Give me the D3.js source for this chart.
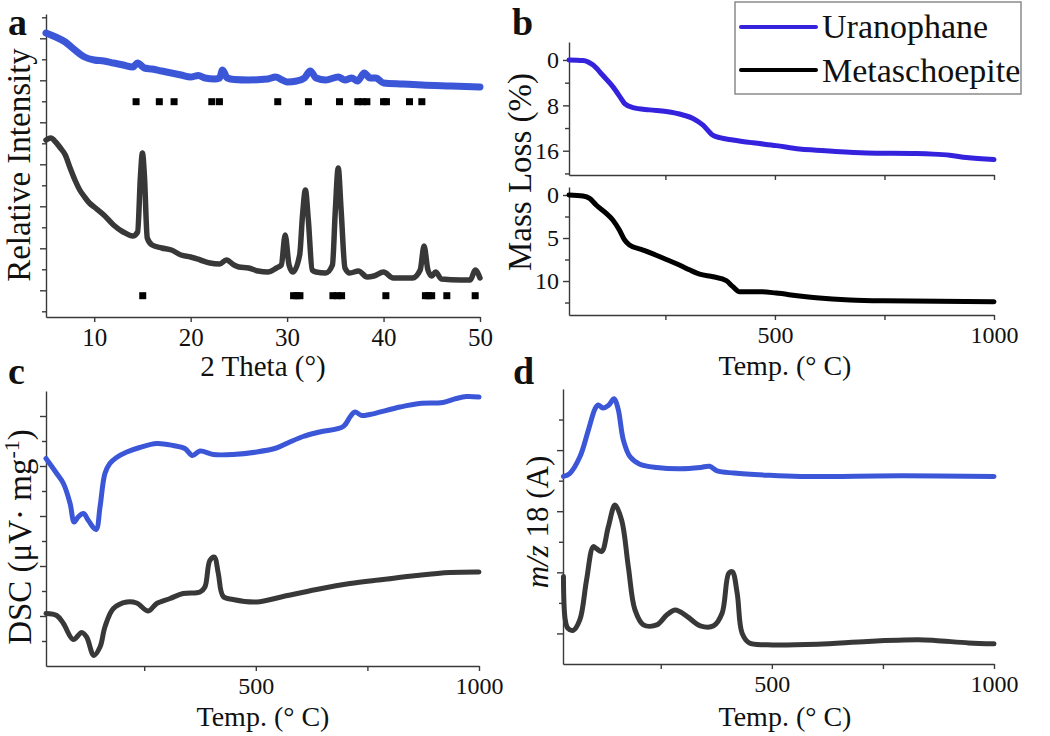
<!DOCTYPE html>
<html><head><meta charset="utf-8">
<script src="https://cdn.jsdelivr.net/npm/d3@7"></script>
<style>body{margin:0;background:#fff}svg{display:block}</style>
</head><body><svg id="chart" width="1050" height="736"></svg>
<script>
// ---------- DATA ----------
const seriesNames = ["Uranophane", "Metaschoepite"];

// (a) XRD: [2theta, relative intensity (arb.)]
const xrdUranophane = [[5,284],[6,280],[7,275],[8,267],[9,260],[10,257],[11,256],[12,254],[13,252],[14,250],[14.5,254],[15.2,249],[16,248],[17,246],[18,244],[19,242],[20,240],[20.8,241.5],[21.5,239],[22.5,238],[23.0,239],[23.3,247],[23.8,239],[24.5,237.5],[26,237],[28,238],[28.8,240],[29.5,237],[30,235],[31,236],[31.8,239],[32.4,246],[33,239],[34,237],[35.3,240],[36,237],[36.7,239],[37.3,236],[38,244],[38.6,239],[39.2,239],[40,234],[42,233],[44,232],[47,231],[50,230]];
const xrdMetaschoepite = [[5,177],[5.5,179],[6,175],[6.5,169],[7,162],[7.5,149],[8,137],[8.5,127],[9,120],[9.5,114],[10,110],[11,102],[12,92],[13,85],[14,81],[14.5,85],[14.8,142],[15.0,164],[15.2,142],[15.5,79],[16,72],[17,69],[18,67],[19,62],[20,60],[21,57],[22,54],[23,53],[23.7,57],[24.5,52],[25,50],[26,49],[27,46],[28,45],[28.9,49],[29.4,52],[29.8,82],[30.2,52],[30.6,45],[31.3,62],[31.6,102],[31.9,127],[32.2,97],[32.6,47],[33,45],[34,44],[34.7,52],[35.0,107],[35.3,149],[35.6,107],[36.0,49],[36.5,44],[37.4,46],[38.3,40],[39,41],[40,45],[41,39],[43,39],[43.8,47],[44.2,71],[44.6,47],[45,41],[45.4,45],[46,38],[48,37],[49,37],[49.5,47],[50,39]];
// reference reflection positions (2theta) and the intensity level of each marker row
const refUranophane = [14.34,16.75,18.28,22.19,22.98,29.03,32.21,35.43,37.33,37.8,38.27,40.0,40.3,42.69,43.97];
const refMetaschoepite = [15.03,30.67,31.0,31.33,34.75,35.2,35.65,40.24,44.34,44.65,44.99,46.56,49.5];
const refLevelUranophane = 215.3;
const refLevelMetaschoepite = 21.3;
const xrdTicks = [10,20,30,40,50];

// (b) TGA: [temperature C, mass loss %]
const tgaUranophane = [[30,0],[62,0.1],[85,0.9],[107,2.7],[130,4.7],[149,6.8],[157,7.7],[176,8.4],[214,8.8],[252,9.1],[290,9.7],[313,10.3],[336,11.5],[359,13.3],[374,13.7],[404,14.1],[450,14.6],[503,15.1],[556,15.7],[594,15.9],[632,16.1],[709,16.4],[823,16.5],[861,16.6],[899,16.8],[937,17.2],[1000,17.55]];
const tgaMetaschoepite = [[30,0],[62,0.12],[77,0.39],[92,1.16],[115,2.13],[130,2.9],[145,4.07],[157,5.23],[168,5.8],[199,6.4],[229,7.0],[252,7.5],[282,8.14],[305,8.7],[328,9.2],[359,9.5],[389,9.96],[404,10.66],[419,11.24],[465,11.24],[503,11.4],[556,11.74],[594,11.94],[671,12.2],[747,12.3],[1000,12.4]];
const tgaUTicks = [0,8,16];
const tgaUMinor = [4,12,20];
const tgaMTicks = [0,5,10];
const tgaMMinor = [2.5,7.5,12.5];

// (c) DSC: [temperature C, signal (arb.)]
const dscUranophane = [[30,4.15],[54,3.85],[69,3.65],[84,3.25],[93,2.88],[102,2.98],[114,3.05],[125,2.91],[142,2.73],[151,3.18],[162,3.85],[173,4.05],[188,4.17],[211,4.28],[240,4.37],[278,4.45],[315,4.41],[341,4.35],[358,4.21],[375,4.3],[405,4.23],[449,4.23],[502,4.28],[546,4.36],[576,4.48],[606,4.59],[643,4.68],[696,4.79],[711,4.98],[722,5.08],[737,5.01],[755,5.03],[823,5.18],[867,5.25],[919,5.27],[949,5.35],[972,5.39],[1000,5.38]];
const dscMetaschoepite = [[30,1.05],[54,1.01],[69,0.85],[91,0.53],[110,0.67],[121,0.58],[137,0.21],[151,0.38],[162,0.78],[181,1.15],[211,1.28],[233,1.26],[259,1.1],[278,1.25],[308,1.35],[337,1.45],[375,1.48],[386,1.58],[397,2.11],[407,2.18],[416,1.85],[427,1.39],[449,1.33],[502,1.28],[561,1.39],[636,1.53],[711,1.65],[785,1.73],[860,1.81],[935,1.87],[1000,1.88]];

// (d) MS m/z 18: [temperature C, ion current (arb.)]
const msUranophane = [[31,6.14],[45,6.23],[68,6.78],[87,7.65],[102,8.35],[109,8.48],[120,8.38],[132,8.46],[145,8.68],[154,8.35],[166,7.32],[181,6.78],[203,6.54],[241,6.43],[294,6.39],[339,6.43],[360,6.47],[377,6.32],[415,6.25],[490,6.18],[565,6.14],[792,6.16],[1000,6.14]];
const msMetaschoepite = [[31,2.86],[35,1.45],[41,1.17],[53,1.1],[68,1.45],[83,2.75],[98,3.84],[105,3.78],[117,3.68],[132,4.49],[147,5.2],[162,4.71],[177,3.19],[192,1.77],[211,1.28],[241,1.28],[264,1.61],[283,1.77],[309,1.56],[339,1.25],[369,1.25],[388,1.66],[403,2.97],[411,3.02],[422,2.32],[433,1.01],[449,0.69],[490,0.63],[603,0.65],[716,0.74],[829,0.79],[867,0.77],[943,0.69],[1000,0.66]];

const tempTicks = [500,1000];
const tempMinor = [250,750];

// ---------- STYLE ----------
const FONT = "'Liberation Serif','Times New Roman',serif";
const AXC = "#3a3a3a";
const BLUE = "#3b57d8";
const BLUE_B = "#3522dd";
const GREY = "#383838";

const svg = d3.select("#chart");

function styleAxis(g, fs){
  g.selectAll("path,line").attr("stroke", AXC).attr("stroke-width", 1.4);
  g.selectAll("text").attr("font-family", FONT).attr("font-size", fs).attr("fill", "#111");
}
function leftAxis(y, x0, majors, minors, labels, fs){
  const g = svg.append("g").attr("transform", `translate(${x0},0)`)
    .call(d3.axisLeft(y).tickValues(majors).tickSize(6).tickSizeOuter(0).tickPadding(4)
      .tickFormat(labels ? d3.format("d") : ""));
  styleAxis(g, fs);
  const gm = svg.append("g").attr("transform", `translate(${x0},0)`)
    .call(d3.axisLeft(y).tickValues(minors).tickSize(4).tickFormat(""));
  gm.select("path").remove();
  styleAxis(gm, fs);
  return g;
}
function bottomAxis(x, y0, majors, minors, labels, fs){
  const g = svg.append("g").attr("transform", `translate(0,${y0})`)
    .call(d3.axisBottom(x).tickValues(majors).tickSize(5).tickSizeOuter(0).tickPadding(6)
      .tickFormat(labels ? d3.format("d") : ""));
  styleAxis(g, fs);
  if (minors && minors.length){
    const gm = svg.append("g").attr("transform", `translate(0,${y0})`)
      .call(d3.axisBottom(x).tickValues(minors).tickSize(5).tickFormat(""));
    gm.select("path").remove();
    styleAxis(gm, fs);
  }
  return g;
}
function drawLine(data, x, y, color, w, curve){
  svg.append("path").datum(data)
    .attr("fill","none").attr("stroke",color).attr("stroke-width",w)
    .attr("stroke-linejoin","round").attr("stroke-linecap","round")
    .attr("d", d3.line().x(d=>x(d[0])).y(d=>y(d[1])).curve(curve || d3.curveMonotoneX));
}
function text(x, y, s, fs, opts={}){
  const t = svg.append("text").attr("x",x).attr("y",y).text(s)
    .attr("font-family",FONT).attr("font-size",fs).attr("fill","#111")
    .attr("text-anchor", opts.anchor || "start");
  if (opts.bold) t.attr("font-weight","bold");
  if (opts.rotate) t.attr("transform",`rotate(-90,${x},${y})`);
  return t;
}

// ---------- PANEL A ----------
const xA = d3.scaleLinear().domain([5,50]).range([46,480]);
const yA = d3.scaleLinear().domain([0,303]).range([317,14]);
leftAxis(yA, 46, d3.range(26.7,303,42), d3.range(5.7,303,42), false, 25);
bottomAxis(xA, 317, xrdTicks, [], true, 25);
drawLine(xrdUranophane, xA, yA, BLUE, 7);
drawLine(xrdMetaschoepite, xA, yA, GREY, 5.5);
svg.append("g").selectAll("rect").data(refUranophane).join("rect")
  .attr("x", d=>xA(d)-3.5).attr("y", yA(refLevelUranophane)-3.5).attr("width",7).attr("height",7).attr("fill","#000");
svg.append("g").selectAll("rect").data(refMetaschoepite).join("rect")
  .attr("x", d=>xA(d)-3.5).attr("y", yA(refLevelMetaschoepite)-3.5).attr("width",7).attr("height",7).attr("fill","#000");
text(263, 376, "2 Theta (°)", 29, {anchor:"middle"});
text(30, 165, "Relative Intensity", 33, {anchor:"middle", rotate:true});
text(8, 35, "a", 38, {bold:true});

// ---------- PANEL B ----------
const xB = d3.scaleLinear().domain([30,1000]).range([569,994]);
const yBU = d3.scaleLinear().domain([-3.17,20.28]).range([42,175]);
const yBL = d3.scaleLinear().domain([-0.93,13.95]).range([187,315]);
leftAxis(yBU, 569, tgaUTicks, tgaUMinor, true, 24);
leftAxis(yBL, 569, tgaMTicks, tgaMMinor, true, 24);
bottomAxis(xB, 175, [250,500,750,1000], [], false, 24);
bottomAxis(xB, 315, tempTicks, tempMinor, true, 24);
drawLine(tgaUranophane, xB, yBU, BLUE_B, 5);
drawLine(tgaMetaschoepite, xB, yBL, "#000", 5);
text(785, 375, "Temp. (° C)", 28, {anchor:"middle"});
text(531, 172, "Mass Loss (%)", 33, {anchor:"middle", rotate:true});
text(512, 35, "b", 38, {bold:true});

// legend
const lg = svg.append("g");
lg.append("rect").attr("x",735).attr("y",2).attr("width",286).attr("height",92)
  .attr("fill","#fff").attr("stroke","#8a8a8a").attr("stroke-width",1.5);
[[BLUE_B,27,38],["#000",70,82]].forEach((s,i)=>{
  lg.append("line").attr("x1",741).attr("x2",816).attr("y1",s[1]).attr("y2",s[1])
    .attr("stroke",s[0]).attr("stroke-width",4).attr("stroke-linecap","round");
  lg.append("text").attr("x",822).attr("y",s[2]).text(seriesNames[i])
    .attr("font-family",FONT).attr("font-size",34).attr("fill","#111");
});

// ---------- PANEL C ----------
const xC = d3.scaleLinear().domain([30,1000]).range([46,479]);
const yC = d3.scaleLinear().domain([0,5.5]).range([666,391]);
leftAxis(yC, 46, [1,2,3,4,5], [0.5,1.5,2.5,3.5,4.5], false, 24);
bottomAxis(xC, 666, tempTicks, tempMinor, true, 24);
drawLine(dscUranophane, xC, yC, BLUE, 5, d3.curveCatmullRom);
drawLine(dscMetaschoepite, xC, yC, GREY, 5, d3.curveCatmullRom);
text(263, 726, "Temp. (° C)", 28, {anchor:"middle"});
const tc = text(31, 537, "DSC (μV· mg", 33, {anchor:"middle", rotate:true});
tc.append("tspan").attr("baseline-shift","super").attr("font-size",22).text("-1");
tc.append("tspan").text(")");
text(8, 384, "c", 38, {bold:true});

// ---------- PANEL D ----------
const xD = d3.scaleLinear().domain([30,1000]).range([563,994]);
const yD = d3.scaleLinear().domain([0,9]).range([664,389]);
leftAxis(yD, 563, [1,3,5,7], [2,4,6,8], false, 24);
bottomAxis(xD, 664, tempTicks, tempMinor, true, 24);
drawLine(msUranophane, xD, yD, BLUE, 5, d3.curveCatmullRom);
drawLine(msMetaschoepite, xD, yD, GREY, 5, d3.curveCatmullRom);
text(785, 726, "Temp. (° C)", 28, {anchor:"middle"});
const td = svg.append("text").attr("x",548).attr("y",522).attr("text-anchor","middle")
  .attr("transform","rotate(-90,548,522)").attr("font-family",FONT).attr("font-size",31).attr("fill","#111");
td.append("tspan").attr("font-style","italic").text("m/z");
td.append("tspan").text(" 18 (A)");
text(513, 384, "d", 38, {bold:true});
</script></body></html>
